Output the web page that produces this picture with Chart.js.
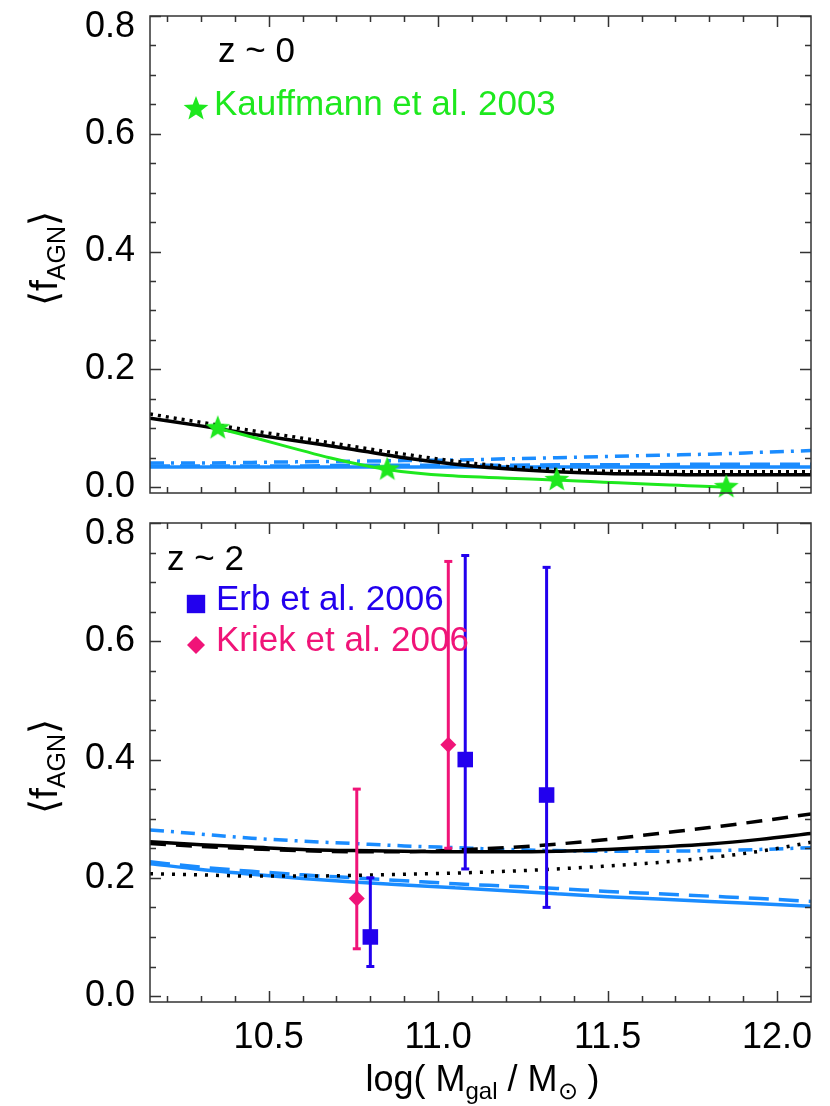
<!DOCTYPE html>
<html>
<head>
<meta charset="utf-8">
<script src="https://cdn.jsdelivr.net/npm/chart.js@4.4.1/dist/chart.umd.min.js"></script>
<style>
  html, body { margin: 0; padding: 0; background: #fff; overflow: hidden; }
  #wrap { position: relative; width: 830px; height: 1106px; background: #fff; }
  #chartTop { position: absolute; left: 0; top: 0; }
  #chartBottom { position: absolute; left: 0; top: 510px; }
</style>
</head>
<body>
<div id="wrap">
  <canvas id="chartTop" width="830" height="510"></canvas>
  <canvas id="chartBottom" width="830" height="596"></canvas>
</div>
<script>
// axis ranges and ticks
const xMin = 10.15, xMax = 12.1;
const yMin = -0.01, yMax = 0.8;
const xMajor = [10.5, 11.0, 11.5, 12.0];
const xMinor = [10.2, 10.3, 10.4, 10.6, 10.7, 10.8, 10.9, 11.1, 11.2, 11.3, 11.4, 11.6, 11.7, 11.8, 11.9];
const yMajor = [0.0, 0.2, 0.4, 0.6, 0.8];
const yMinor = [0.05, 0.1, 0.15, 0.25, 0.3, 0.35, 0.45, 0.5, 0.55, 0.65, 0.7, 0.75];

// model curves, read at these masses
const massGrid = [10.15, 10.3, 10.45, 10.6, 10.75, 10.9, 11.05, 11.2, 11.35, 11.5, 11.65, 11.8, 11.95, 12.1];

// z ~ 0 panel
const z0BlackSolid  = [0.117, 0.104, 0.090, 0.077, 0.064, 0.050, 0.039, 0.031, 0.026, 0.023, 0.022, 0.021, 0.021, 0.021];
const z0BlackDotted = [0.124, 0.110, 0.096, 0.083, 0.069, 0.056, 0.044, 0.035, 0.030, 0.027, 0.026, 0.026, 0.026, 0.026];
const z0BlueSolid   = [0.034, 0.034, 0.034, 0.034, 0.034, 0.034, 0.034, 0.034, 0.034, 0.034, 0.034, 0.034, 0.034, 0.034];
const z0BlueDashed  = [0.036, 0.036, 0.036, 0.036, 0.037, 0.037, 0.037, 0.037, 0.038, 0.038, 0.038, 0.039, 0.039, 0.039];
const z0BlueDashDot = [0.041, 0.041, 0.042, 0.043, 0.044, 0.045, 0.046, 0.048, 0.050, 0.052, 0.054, 0.056, 0.059, 0.062];

// Kauffmann et al. 2003
const kauffX = [10.35, 10.85, 11.35, 11.85];
const kauffY = [0.10, 0.03, 0.012, 0.0];

// z ~ 2 panel
const z2BlackSolid  = [0.261, 0.256, 0.252, 0.248, 0.246, 0.245, 0.244, 0.244, 0.245, 0.248, 0.252, 0.257, 0.265, 0.275];
const z2BlackDashed = [0.258, 0.253, 0.249, 0.246, 0.244, 0.244, 0.247, 0.251, 0.257, 0.265, 0.275, 0.285, 0.296, 0.308];
const z2BlackDotted = [0.207, 0.205, 0.203, 0.203, 0.204, 0.206, 0.208, 0.211, 0.215, 0.220, 0.226, 0.234, 0.245, 0.260];
const z2BlueSolid   = [0.224, 0.214, 0.206, 0.199, 0.193, 0.188, 0.183, 0.178, 0.173, 0.168, 0.164, 0.160, 0.156, 0.152];
const z2BlueDashed  = [0.227, 0.218, 0.211, 0.205, 0.200, 0.195, 0.190, 0.186, 0.182, 0.177, 0.173, 0.169, 0.165, 0.160];
const z2BlueDashDot = [0.281, 0.274, 0.267, 0.262, 0.258, 0.254, 0.251, 0.248, 0.246, 0.245, 0.245, 0.246, 0.248, 0.251];

// Erb et al. 2006
const erbX  = [10.80, 11.08, 11.32];
const erbY  = [0.10, 0.40, 0.34];
const erbLo = [0.05, 0.215, 0.15];
const erbHi = [0.20, 0.745, 0.725];

// Kriek et al. 2006
const kriekX  = [10.76, 11.03];
const kriekY  = [0.165, 0.425];
const kriekLo = [0.08, 0.25];
const kriekHi = [0.35, 0.735];

const FONT = "'Liberation Sans', Arial, Helvetica, sans-serif";
const BLUE = '#1a8cff';
const GREEN = '#1ee81e';
const ERB = '#2200ee';
const KRIEK = '#f01478';

function makeStar(r, color) {
    const c = document.createElement('canvas');
    c.width = c.height = Math.ceil(2 * r + 2);
    const g = c.getContext('2d');
    g.fillStyle = color;
    g.beginPath();
    for (let i = 0; i < 10; i++) {
        const rad = i % 2 ? r * 0.42 : r;
        const ang = -Math.PI / 2 + i * Math.PI / 5;
        const px = c.width / 2 + rad * Math.cos(ang);
        const py = c.height / 2 + rad * Math.sin(ang);
        if (i) g.lineTo(px, py); else g.moveTo(px, py);
    }
    g.closePath();
    g.fill();
    return c;
}
const starImg = makeStar(13, GREEN);

const pts = (xs, ys) => xs.map((x, i) => ({ x: x, y: ys[i] }));

function curve(ys, color, dash) {
    return {
        data: pts(massGrid, ys), showLine: true, borderColor: color, borderWidth: 3.5,
        borderDash: dash || [], pointRadius: 0, cubicInterpolationMode: 'monotone'
    };
}

function errorBars(xs, lo, hi, color) {
    return xs.map((x, i) => ({
        data: [{ x: x, y: lo[i] }, { x: x, y: hi[i] }], showLine: true,
        borderColor: color, borderWidth: 3, pointStyle: 'line', pointRadius: 4,
        pointBorderColor: color, pointBorderWidth: 3, clip: false
    }));
}

// frame with inward ticks on all four sides
const frameTicks = {
    id: 'frameTicks',
    afterDraw(chart) {
        const { ctx, chartArea: a, scales: { x, y } } = chart;
        ctx.save();
        ctx.strokeStyle = '#333';
        ctx.lineWidth = 1.5;
        ctx.strokeRect(a.left, a.top, a.right - a.left, a.bottom - a.top);
        ctx.beginPath();
        const xt = (vals, len) => vals.forEach(v => {
            const p = Math.round(x.getPixelForValue(v)) + 0.5;
            ctx.moveTo(p, a.bottom); ctx.lineTo(p, a.bottom - len);
            ctx.moveTo(p, a.top); ctx.lineTo(p, a.top + len);
        });
        const yt = (vals, len) => vals.forEach(v => {
            const p = Math.round(y.getPixelForValue(v)) + 0.5;
            ctx.moveTo(a.left, p); ctx.lineTo(a.left + len, p);
            ctx.moveTo(a.right, p); ctx.lineTo(a.right - len, p);
        });
        xt(xMajor, 11); xt(xMinor, 6);
        yt(yMajor, 11); yt(yMinor, 6);
        ctx.stroke();
        ctx.restore();
    }
};

function drawYTitle(ctx, a) {
    ctx.save();
    ctx.translate(57, (a.top + a.bottom) / 2 + 4);
    ctx.rotate(-Math.PI / 2);
    ctx.fillStyle = '#000';
    ctx.textBaseline = 'alphabetic';
    const big = '39px ' + FONT, small = '25px ' + FONT;
    ctx.font = big;
    const w1 = ctx.measureText('\u27e8f').width;
    const w3 = ctx.measureText('\u27e9').width;
    ctx.font = small;
    const w2 = ctx.measureText('AGN').width;
    let px = -(w1 + w2 + w3) / 2;
    ctx.font = big; ctx.fillText('\u27e8f', px, 0); px += w1;
    ctx.font = small; ctx.fillText('AGN', px, 8); px += w2;
    ctx.font = big; ctx.fillText('\u27e9', px, 0);
    ctx.restore();
}

function yScale() {
    return {
        type: 'linear', min: yMin, max: yMax,
        afterBuildTicks: s => { s.ticks = yMajor.map(v => ({ value: v })); },
        ticks: {
            color: '#000', padding: 15,
            callback: v => v === 0.8 ? ['', v.toFixed(1)] : v.toFixed(1),
            font: c => ({ family: FONT, size: 36, lineHeight: (c.tick && c.tick.value === 0.8) ? 0.6 : 1.2 })
        },
        grid: { display: false, drawTicks: false },
        border: { display: false },
        afterFit: s => { s.width = 150; s.paddingTop = 0; s.paddingBottom = 0; }
    };
}

// top panel: z ~ 0
new Chart(document.getElementById('chartTop'), {
    type: 'scatter',
    data: {
        datasets: [
            { data: pts(kauffX, kauffY), showLine: true, borderColor: GREEN, borderWidth: 3,
              pointStyle: starImg, pointRadius: 13, cubicInterpolationMode: 'monotone', clip: false },
            curve(z0BlackSolid, '#000'),
            curve(z0BlackDotted, '#000', [3, 5]),
            curve(z0BlueSolid, BLUE),
            curve(z0BlueDashed, BLUE, [20, 10]),
            curve(z0BlueDashDot, BLUE, [14, 7, 3, 7])
        ]
    },
    options: {
        responsive: false, animation: false,
        layout: { padding: { left: 0, right: 19, top: 13, bottom: 17 } },
        plugins: { legend: { display: false }, tooltip: { enabled: false } },
        scales: {
            x: { type: 'linear', min: xMin, max: xMax, display: false },
            y: yScale()
        }
    },
    plugins: [frameTicks, {
        id: 'topText',
        afterDraw(chart) {
            const { ctx, chartArea: a } = chart;
            ctx.save();
            ctx.textBaseline = 'middle';
            ctx.font = '35px ' + FONT;
            ctx.fillStyle = '#000';
            ctx.fillText('z ~ 0', a.left + 68, a.top + 36);
            ctx.drawImage(starImg, a.left + 46 - starImg.width / 2, a.top + 93 - starImg.height / 2);
            ctx.fillStyle = GREEN;
            ctx.fillText('Kauffmann et al. 2003', a.left + 64, a.top + 89);
            ctx.restore();
            drawYTitle(ctx, a);
        }
    }]
});

// bottom panel: z ~ 2
new Chart(document.getElementById('chartBottom'), {
    type: 'scatter',
    data: {
        datasets: [
            { data: pts(erbX, erbY), pointStyle: 'rect', pointRadius: 11, backgroundColor: ERB, borderWidth: 0 },
            { data: pts(kriekX, kriekY), pointStyle: 'rectRot', pointRadius: 8, backgroundColor: KRIEK, borderWidth: 0 },
            ...errorBars(erbX, erbLo, erbHi, ERB),
            ...errorBars(kriekX, kriekLo, kriekHi, KRIEK),
            curve(z2BlackSolid, '#000'),
            curve(z2BlackDashed, '#000', [16, 10]),
            curve(z2BlackDotted, '#000', [3, 8]),
            curve(z2BlueSolid, BLUE),
            curve(z2BlueDashed, BLUE, [20, 10]),
            curve(z2BlueDashDot, BLUE, [14, 7, 3, 7])
        ]
    },
    options: {
        responsive: false, animation: false,
        layout: { padding: { left: 0, right: 19, top: 13, bottom: 0 } },
        plugins: { legend: { display: false }, tooltip: { enabled: false } },
        scales: {
            x: {
                type: 'linear', min: xMin, max: xMax,
                afterBuildTicks: s => { s.ticks = xMajor.map(v => ({ value: v })); },
                ticks: { color: '#000', padding: 14, maxRotation: 0, autoSkip: false,
                         callback: v => v.toFixed(1), font: { family: FONT, size: 36 } },
                grid: { display: false, drawTicks: false },
                border: { display: false },
                afterFit: s => { s.height = 104; s.paddingLeft = 0; s.paddingRight = 0; }
            },
            y: yScale()
        }
    },
    plugins: [frameTicks, {
        id: 'bottomText',
        afterDraw(chart) {
            const { ctx, chartArea: a } = chart;
            const helpers = Chart.helpers;
            ctx.save();
            ctx.textBaseline = 'middle';
            ctx.font = '35px ' + FONT;
            ctx.fillStyle = '#000';
            ctx.fillText('z ~ 2', a.left + 17, a.top + 37);
            ctx.fillStyle = ERB;
            helpers.drawPoint(ctx, { pointStyle: 'rect', radius: 13, rotation: 0, borderWidth: 0 }, a.left + 46, a.top + 81);
            ctx.fillText('Erb et al. 2006', a.left + 66, a.top + 77);
            ctx.fillStyle = KRIEK;
            helpers.drawPoint(ctx, { pointStyle: 'rectRot', radius: 9, rotation: 0, borderWidth: 0 }, a.left + 46, a.top + 122);
            ctx.fillText('Kriek et al. 2006', a.left + 66, a.top + 118);

            // x axis title: log( M_gal / M_sun )
            const big = '36px ' + FONT, small = '24px ' + FONT;
            const parts = [['log( M', big, 0], ['gal', small, 8], [' / M', big, 0], ['\u2299', small, 8], [' )', big, 0]];
            let total = 0;
            parts.forEach(p => { ctx.font = p[1]; p.push(ctx.measureText(p[0]).width); total += p[3]; });
            let px = (a.left + a.right) / 2 + 2 - total / 2;
            const base = 581;
            ctx.fillStyle = '#000';
            ctx.textBaseline = 'alphabetic';
            parts.forEach(p => { ctx.font = p[1]; ctx.fillText(p[0], px, base + p[2]); px += p[3]; });
            ctx.restore();
            drawYTitle(ctx, a);
        }
    }]
});
</script>
</body>
</html>
